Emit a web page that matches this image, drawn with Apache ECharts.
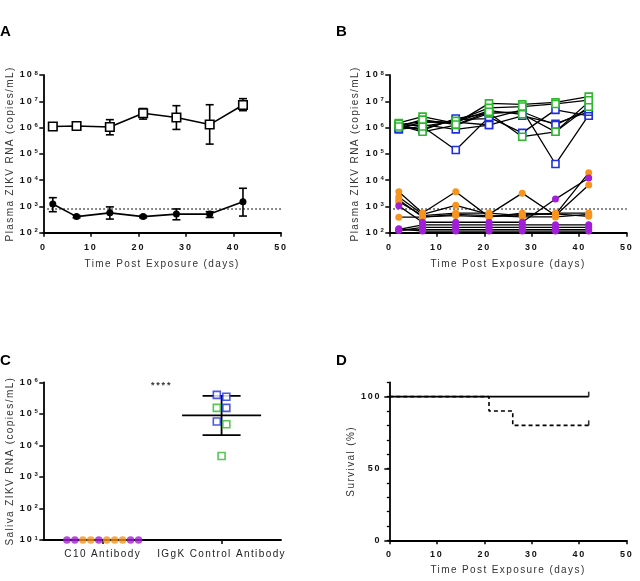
<!DOCTYPE html>
<html><head><meta charset="utf-8">
<script src="https://cdn.jsdelivr.net/npm/echarts@6/dist/echarts.min.js"></script>
<style>html,body{margin:0;padding:0;background:#fff}#c{width:640px;height:581px}</style>
</head><body><div id="c"></div>
<script>
// ---------------- DATA ----------------
const days = [2, 7, 14, 21, 28, 35, 42];
const lod = 800;
// Panel A: group means and error limits
const ctrlMean  = [1.1e6, 1.15e6, 1.05e6, 3.5e6, 2.4e6, 1.3e6, 7.2e6];
const ctrlUpper = [1.25e6, 1.3e6, 2.0e6, 5.3e6, 6.8e6, 7.4e6, 1.26e7];
const ctrlLower = [9.5e5, 1.0e6, 5.3e5, 2.1e6, 8.5e5, 2.35e5, 4.4e6];
const c10Mean  = [1230, 410, 570, 410, 510, 510, 1500];
const c10Upper = [2150, 450, 960, 450, 800, 630, 4900];
const c10Lower = [630, 370, 330, 370, 310, 380, 430];
// Panel B: individual animals
const ctrlBlue1 = [1.0e6, 8.9e5, 2.0e6, 2.2e6, 4.7e6, 4.1e4, 3.0e6];
const ctrlBlue2 = [8.5e5, 1.1e6, 1.4e5, 2.5e6, 6.3e5, 4.7e6, 2.8e6];
const ctrlBlue3 = [1.1e6, 1.3e6, 8.5e5, 1.25e6, 2.8e6, 1.4e6, 4.0e6];
const ctrlBlue4 = [1.25e6, 8.0e5, 2.2e6, 3.5e6, 4.0e6, 1.25e6, 5.0e6];
const ctrlBlue5 = [9.0e5, 1.65e6, 1.6e6, 1.25e6];
const ctrlGreen1 = [1.5e6, 2.6e6, 1.45e6, 8.3e6, 7.6e6, 9.1e6, 1.5e7];
const ctrlGreen2 = [1.3e6, 1.65e6, 1.6e6, 4.4e6, 3.2e6, 6.9e5, 9.5e6];
const ctrlGreen3 = [1.2e6, 6.9e5, 1.25e6, 3.5e6, 4.5e5, 6.9e5, 6.2e6];
const ctrlGreen4 = [1.4e6, 1.1e6, 1.8e6, 5.6e6, 6.3e6, 7.9e6, 1.1e7];
const ctrlGreen5 = [1.1e6, 2.0e6, 1.3e6, 4.0e6];
const c10Orange1 = [3600, 560, 3600, 400, 560, 500, 19000];
const c10Orange2 = [2300, 500, 1100, 500, 3200, 450, 6500];
const c10Orange3 = [1500, 450, 560, 560, 450, 560, 560];
const c10Orange4 = [390, 390, 500, 450, 400, 400, 500];
const c10Orange5 = [1800, 400, 450, 400, 500, 520, 420];
const c10Purple1 = [1050, 250, 250, 250, 250, 1900, 12000];
const c10Purple2 = [135, 200, 200, 200, 200, 200, 200];
const c10Purple3 = [120, 160, 160, 160, 160, 160, 160];
const c10Purple4 = [125, 130, 130, 130, 130, 130, 130];
const c10Purple5 = [140, 115, 115, 115, 115, 115, 115];
// Panel C: saliva
const salivaCategories = ['C10 Antibody', 'IGgK Control Antibody'];
const salivaC10 = [10, 10, 10, 10, 10, 10, 10, 10, 10, 10];
const salivaC10Group = ['purple', 'purple', 'orange', 'orange', 'purple', 'orange', 'orange', 'orange', 'purple', 'purple'];
const salivaCtrl = [4.0e5, 3.5e5, 1.55e5, 1.55e5, 5.7e4, 4.7e4, 4.6e3];
const salivaCtrlGroup = ['blue', 'blue', 'green', 'blue', 'blue', 'green', 'green'];
const salivaCtrlStats = [8.9e4, 2.1e4, 3.7e5]; // mean, lower, upper
const significance = '****';
// Panel D: survival
const survC10Days = [0, 42];
const survC10 = [100, 100];
const survCtrlDays = [0, 21, 26, 42];
const survCtrl = [100, 90, 80, 80];
const timeTicks = [0, 10, 20, 30, 40, 50];
const survTicks = [0, 50, 100];

// ---------------- letter spacing (GraphPad style) ----------------
(function () {
  const P = CanvasRenderingContext2D.prototype;
  if (!('letterSpacing' in P)) return;
  function sp(font) {
    const m = /([\d.]+)px/.exec(font || '');
    const s = m ? parseFloat(m[1]) : 12;
    if (s >= 13) return '0px';
    if (s < 7) return '0.5px';
    return (/bold|700/.test(font) ? s * 0.2 : s * 0.14).toFixed(2) + 'px';
  }
  const ft = P.fillText, mt = P.measureText;
  P.fillText = function (t, x, y, w) { this.letterSpacing = sp(this.font); return w === undefined ? ft.call(this, t, x, y) : ft.call(this, t, x, y, w); };
  P.measureText = function (t) { this.letterSpacing = sp(this.font); return mt.call(this, t); };
})();

// ---------------- CHART ----------------
const FF = '"Liberation Sans", Arial, sans-serif';
const COL = { blue: '#1f2fe0', green: '#2db82d', orange: '#f7941d', purple: '#a21fd8' };
const chart = echarts.init(document.getElementById('c'), null, { renderer: 'canvas' });

const axisLineStyle = { show: true, lineStyle: { color: '#000', width: 1.8 } };
const tickStyle = { show: true, length: 4, lineStyle: { color: '#000', width: 1.5 } };
const tickLabel = { fontFamily: FF, fontSize: 9, fontWeight: 'bold', color: '#111' };
const nameStyle = { fontFamily: FF, fontSize: 10, color: '#333' };

function timeAxis(gridIndex) {
  return {
    type: 'value', gridIndex, min: timeTicks[0], max: timeTicks[timeTicks.length - 1], interval: 10,
    axisLine: axisLineStyle, axisTick: tickStyle, splitLine: { show: false },
    axisLabel: Object.assign({ margin: 9 }, tickLabel),
    name: 'Time Post Exposure (days)', nameLocation: 'middle', nameGap: 26, nameTextStyle: nameStyle
  };
}
function logAxis(gridIndex, min, max, name, gap) {
  return {
    type: 'log', logBase: 10, gridIndex, min, max,
    axisLine: axisLineStyle, axisTick: tickStyle, splitLine: { show: false }, minorTick: { show: false },
    axisLabel: {
      margin: 5,
      formatter: v => '{b|10}{s|' + Math.round(Math.log10(v)) + '}',
      rich: {
        b: { fontFamily: FF, fontSize: 9, fontWeight: 'bold', color: '#111' },
        s: { fontFamily: FF, fontSize: 6, fontWeight: 'bold', color: '#111', verticalAlign: 'top', lineHeight: 6, padding: [0, 0, 0, 1] }
      }
    },
    name, nameLocation: 'middle', nameGap: gap, nameTextStyle: nameStyle
  };
}
const pairs = (xs, vals) => vals.map((v, i) => [xs[i], v]);

function errorBarRender(halfCap, width) {
  return function (params, api) {
    const x = api.value(0);
    const lo = api.coord([x, api.value(1)]);
    const hi = api.coord([x, api.value(2)]);
    const st = { stroke: '#000', lineWidth: width };
    return { type: 'group', children: [
      { type: 'line', shape: { x1: lo[0], y1: lo[1], x2: hi[0], y2: hi[1] }, style: st },
      { type: 'line', shape: { x1: hi[0] - halfCap, y1: hi[1], x2: hi[0] + halfCap, y2: hi[1] }, style: st },
      { type: 'line', shape: { x1: lo[0] - halfCap, y1: lo[1], x2: lo[0] + halfCap, y2: lo[1] }, style: st }
    ] };
  };
}

const series = [];
// ---- Panel A ----
series.push({ type: 'line', xAxisIndex: 0, yAxisIndex: 0, data: [[0, lod], [50, lod]], symbol: 'none', silent: true,
  lineStyle: { color: '#333', width: 1.5, type: [1.5, 2.5] }, z: 1 });
series.push({ type: 'custom', xAxisIndex: 0, yAxisIndex: 0, z: 2, encode: { x: 0, y: [1, 2] },
  data: days.map((d, i) => [d, ctrlLower[i], ctrlUpper[i]]), renderItem: errorBarRender(4, 1.6) });
series.push({ type: 'custom', xAxisIndex: 0, yAxisIndex: 0, z: 2, encode: { x: 0, y: [1, 2] },
  data: days.map((d, i) => [d, c10Lower[i], c10Upper[i]]), renderItem: errorBarRender(4, 1.6) });
series.push({ type: 'line', xAxisIndex: 0, yAxisIndex: 0, z: 3, data: pairs(days, ctrlMean), symbol: 'rect', symbolSize: 8.5,
  lineStyle: { color: '#000', width: 1.6 }, itemStyle: { color: '#fff', borderColor: '#000', borderWidth: 1.6 } });
series.push({ type: 'line', xAxisIndex: 0, yAxisIndex: 0, z: 3, data: pairs(days, c10Mean), symbol: 'circle', symbolSize: 7,
  lineStyle: { color: '#000', width: 1.6 }, itemStyle: { color: '#000', borderColor: '#000', borderWidth: 0 } });

// ---- Panel B ----
series.push({ type: 'line', xAxisIndex: 1, yAxisIndex: 1, data: [[0, lod], [50, lod]], symbol: 'none', silent: true,
  lineStyle: { color: '#333', width: 1.5, type: [1.5, 2.5] }, z: 1 });
const bGroups = [
  { animals: [c10Orange1, c10Orange2, c10Orange3, c10Orange4, c10Orange5], color: COL.orange, shape: 'circle' },
  { animals: [c10Purple1, c10Purple2, c10Purple3, c10Purple4, c10Purple5], color: COL.purple, shape: 'circle' },
  { animals: [ctrlBlue1, ctrlBlue2, ctrlBlue3, ctrlBlue4, ctrlBlue5], color: COL.blue, shape: 'rect' },
  { animals: [ctrlGreen1, ctrlGreen2, ctrlGreen3, ctrlGreen4, ctrlGreen5], color: COL.green, shape: 'rect' }
];
bGroups.forEach(g => g.animals.forEach(a => {
  series.push({ type: 'line', xAxisIndex: 1, yAxisIndex: 1, z: 2, data: pairs(days, a), symbol: 'none',
    lineStyle: { color: '#000', width: 1.3 } });
}));
bGroups.forEach(g => {
  const pts = [];
  g.animals.forEach(a => a.forEach((v, i) => pts.push([days[i], v])));
  series.push({ type: 'scatter', xAxisIndex: 1, yAxisIndex: 1, z: 3, data: pts, symbol: g.shape,
    symbolSize: 7,
    itemStyle: g.shape === 'rect' ? { color: '#fff', borderColor: g.color, borderWidth: 1.6, opacity: 1 } : { color: g.color, opacity: 1 } });
});

// ---- Panel C ----
const c10Pts = salivaC10.map((v, i) => ({ value: [0.5 + (i - (salivaC10.length - 1) / 2) * 0.067, v], itemStyle: { color: COL[salivaC10Group[i]] } }));
const ctrlPts = salivaCtrl.map((v, i) => {
  const lv = Math.log10(v);
  const near = salivaCtrl.some((w, j) => j !== i && Math.abs(Math.log10(w) - lv) < 0.35);
  const side = near ? (i % 2 === 0 ? -1 : 1) : 0;
  return { value: [1.5 + side * 0.04, v], itemStyle: { color: '#fff', borderColor: COL[salivaCtrlGroup[i]], borderWidth: 1.6 } };
});
series.push({ type: 'custom', xAxisIndex: 3, yAxisIndex: 2, z: 2, encode: { x: 0, y: [1, 2, 3] },
  data: [[1.5, salivaCtrlStats[0], salivaCtrlStats[1], salivaCtrlStats[2]]],
  renderItem: function (params, api) {
    const x = api.value(0);
    const m = api.coord([x, api.value(1)]);
    const lo = api.coord([x, api.value(2)]);
    const hi = api.coord([x, api.value(3)]);
    const st = { stroke: '#000', lineWidth: 1.8 };
    return { type: 'group', children: [
      { type: 'line', shape: { x1: m[0] - 39.5, y1: m[1], x2: m[0] + 39.5, y2: m[1] }, style: st },
      { type: 'line', shape: { x1: lo[0], y1: lo[1], x2: hi[0], y2: hi[1] }, style: st },
      { type: 'line', shape: { x1: hi[0] - 19, y1: hi[1], x2: hi[0] + 19, y2: hi[1] }, style: st },
      { type: 'line', shape: { x1: lo[0] - 19, y1: lo[1], x2: lo[0] + 19, y2: lo[1] }, style: st }
    ] };
  } });
series.push({ type: 'scatter', xAxisIndex: 3, yAxisIndex: 2, z: 3, data: c10Pts, symbol: 'circle', symbolSize: 7.5, clip: false });
series.push({ type: 'scatter', xAxisIndex: 3, yAxisIndex: 2, z: 3, data: ctrlPts, symbol: 'rect', symbolSize: 7 });

// ---- Panel D ----
series.push({ type: 'line', xAxisIndex: 4, yAxisIndex: 3, z: 2, data: pairs(survC10Days, survC10), step: 'end', symbol: 'none',
  lineStyle: { color: '#000', width: 1.6 } });
series.push({ type: 'line', xAxisIndex: 4, yAxisIndex: 3, z: 3, data: pairs(survCtrlDays, survCtrl), step: 'end', symbol: 'none',
  lineStyle: { color: '#000', width: 1.6, type: [4, 3] } });
series.push({ type: 'scatter', xAxisIndex: 4, yAxisIndex: 3, z: 3, symbol: 'rect', symbolSize: [1.6, 5], symbolOffset: [0, -2.5],
  data: [[survC10Days[survC10Days.length - 1], survC10[survC10.length - 1]], [survCtrlDays[survCtrlDays.length - 1], survCtrl[survCtrl.length - 1]]],
  itemStyle: { color: '#000' }, clip: false });

const option = {
  animation: false,
  backgroundColor: '#fff',
  textStyle: { fontFamily: FF },
  grid: [
    { left: 43.3, top: 75, width: 237.7, height: 157.7 },
    { left: 389.3, top: 75, width: 237.4, height: 157.7 },
    { left: 43.3, top: 382.3, width: 237.7, height: 157.7 },
    { left: 389.3, top: 382.3, width: 237.4, height: 158 }
  ],
  xAxis: [
    timeAxis(0),
    timeAxis(1),
    { type: 'category', gridIndex: 2, data: salivaCategories, boundaryGap: true,
      axisLine: axisLineStyle, axisTick: Object.assign({ alignWithLabel: true, interval: 0 }, tickStyle),
      axisLabel: { interval: 0, hideOverlap: false, margin: 9, fontFamily: FF, fontSize: 10, color: '#222' } },
    { type: 'value', gridIndex: 2, min: 0, max: 2, show: false },
    Object.assign(timeAxis(3), { nameGap: 24 })
  ],
  yAxis: [
    logAxis(0, 100, 1e8, 'Plasma ZIKV RNA (copies/mL)', 27),
    logAxis(1, 100, 1e8, 'Plasma ZIKV RNA (copies/mL)', 28),
    logAxis(2, 10, 1e6, 'Saliva ZIKV RNA (copies/mL)', 27),
    { type: 'value', gridIndex: 3, min: 0, max: 110, interval: 10,
      axisLine: axisLineStyle, axisTick: { show: true, length: 2.5, lineStyle: { color: '#000', width: 1.3 } },
      splitLine: { show: false },
      axisLabel: Object.assign({ margin: 8, customValues: survTicks }, tickLabel),
      name: 'Survival (%)', nameLocation: 'middle', nameGap: 30, nameTextStyle: nameStyle },
    { type: 'value', gridIndex: 3, min: 0, max: 110, position: 'left',
      axisLine: { show: false }, axisLabel: { show: false }, splitLine: { show: false },
      axisTick: { show: true, length: 5, customValues: survTicks, lineStyle: { color: '#000', width: 1.5 } } }
  ],
  graphic: [
    { type: 'text', left: 0, top: 24, style: { text: 'A', font: 'bold 15px ' + FF, fill: '#000' } },
    { type: 'text', left: 336, top: 24, style: { text: 'B', font: 'bold 15px ' + FF, fill: '#000' } },
    { type: 'text', left: 0, top: 353, style: { text: 'C', font: 'bold 15px ' + FF, fill: '#000' } },
    { type: 'text', left: 336, top: 353, style: { text: 'D', font: 'bold 15px ' + FF, fill: '#000' } },
    { type: 'text', left: 151, top: 380, style: { text: significance, font: 'bold 9px ' + FF, fill: '#333' } }
  ],
  series
};
chart.setOption(option);
</script>
</body></html>
